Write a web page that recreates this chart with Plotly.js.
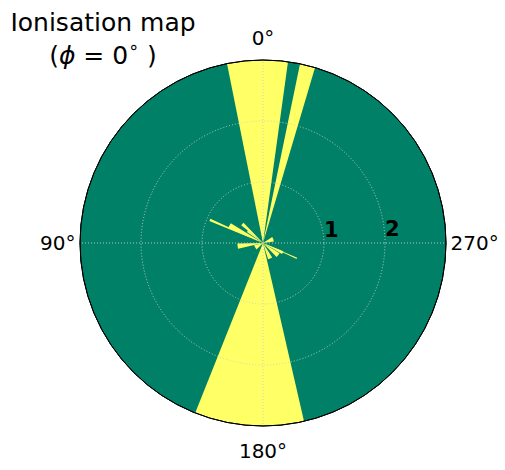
<!DOCTYPE html>
<html>
<head>
<meta charset="utf-8">
<script src="https://cdn.plot.ly/plotly-3.0.1.min.js"></script>
<style>
    html, body { margin: 0; padding: 0; background: #ffffff; }
    #chart { width: 505px; height: 470px; }
</style>
</head>
<body>
<div id="chart"></div>
<script>
// Ionised rays: centre angle (deg), angular width (deg) and radial extent
const rayTheta  = [1.75, 345.9, 175.6, 66.5, 62.5, 47.5, 53, 97, 245.6, 244, 231, 205, 290, 120];
const rayWidth  = [19.2, 4.85, 34.7, 2.5, 8, 7, 5, 12, 1.8, 8, 14, 15, 25, 30];
const rayLength = [3, 3, 3, 0.95, 0.62, 0.46, 0.32, 0.42, 0.61, 0.36, 0.32, 0.28, 0.18, 0.15];

// Axis ticks
const verticalTicks = [0, 180];
const verticalLabels = ['0°', '180°'];
const sideTicks = [90, 270];
const sideLabels = ['90°', '270°'];
const radiusTicks = [1, 2];
const radiusLabels = ['1', '2'];
const radiusMax = 3;

const GREEN = '#008066';   // summer colormap, low end
const YELLOW = '#ffff66';  // summer colormap, high end
const GRID = 'rgba(205,205,205,0.9)';
const DOTS = '1px,2px';

const domain = {
    x: [80 / 505, 446 / 505],
    y: [1 - 426 / 470, 1 - 60 / 470]
};

const rays = {
    type: 'barpolar',
    subplot: 'polar',
    r: rayLength,
    theta: rayTheta,
    width: rayWidth,
    marker: { color: YELLOW, line: { width: 0 } },
    hoverinfo: 'skip'
};

const radiusText = {
    type: 'scatterpolar',
    subplot: 'polar2',
    mode: 'text',
    r: radiusTicks,
    theta: [271, 271],
    text: radiusLabels,
    textposition: 'top right',
    textfont: { family: 'DejaVu Sans', size: 21, color: '#000000', weight: 'bold' },
    hoverinfo: 'skip'
};

// empty trace so the side-label overlay gets drawn
const sideHolder = {
    type: 'scatterpolar',
    subplot: 'polar3',
    mode: 'markers',
    r: [],
    theta: [],
    hoverinfo: 'skip'
};

// overlay subplot: dotted grid and labels drawn above the rays
function overlay(tickvals, ticktext, standoff, withRadial) {
    return {
        domain: domain,
        bgcolor: 'rgba(0,0,0,0)',
        angularaxis: {
            rotation: 90,
            direction: 'counterclockwise',
            tickmode: 'array',
            tickvals: tickvals,
            ticktext: ticktext,
            tickfont: { family: 'DejaVu Sans', size: 20, color: '#000000' },
            ticks: standoff > 0 ? 'outside' : '',
            ticklen: standoff,
            tickcolor: 'rgba(0,0,0,0)',
            showline: true,
            linecolor: '#000000',
            linewidth: 1,
            showgrid: true,
            gridcolor: GRID,
            griddash: DOTS,
            gridwidth: 1
        },
        radialaxis: {
            range: [0, radiusMax],
            tickmode: 'array',
            tickvals: radiusTicks,
            showticklabels: false,
            ticks: '',
            showline: false,
            showgrid: withRadial,
            gridcolor: GRID,
            griddash: DOTS,
            gridwidth: 1
        }
    };
}

const layout = {
    width: 505,
    height: 470,
    margin: { t: 0, r: 0, b: 0, l: 0 },
    paper_bgcolor: '#ffffff',
    showlegend: false,
    font: { family: 'DejaVu Sans', color: '#000000' },
    title: {
        text: 'Ionisation map<br>(<i>ϕ</i> = 0<sup>∘</sup> )',
        font: { family: 'DejaVu Sans', size: 25, color: '#000000' },
        x: 103 / 505,
        xanchor: 'center',
        xref: 'paper',
        yref: 'container',
        y: 1 - 31 / 470,
        yanchor: 'top'
    },
    // data layer: green background with yellow rays
    polar: {
        domain: domain,
        bgcolor: GREEN,
        angularaxis: {
            rotation: 90,
            direction: 'counterclockwise',
            showgrid: false,
            showticklabels: false,
            showline: false,
            ticks: ''
        },
        radialaxis: { range: [0, radiusMax], visible: false }
    },
    polar2: overlay(verticalTicks, verticalLabels, 7, true),
    polar3: overlay(sideTicks, sideLabels, 0, false)
};

Plotly.newPlot('chart', [rays, radiusText, sideHolder], layout, { displayModeBar: false, staticPlot: true });
</script>
</body>
</html>
